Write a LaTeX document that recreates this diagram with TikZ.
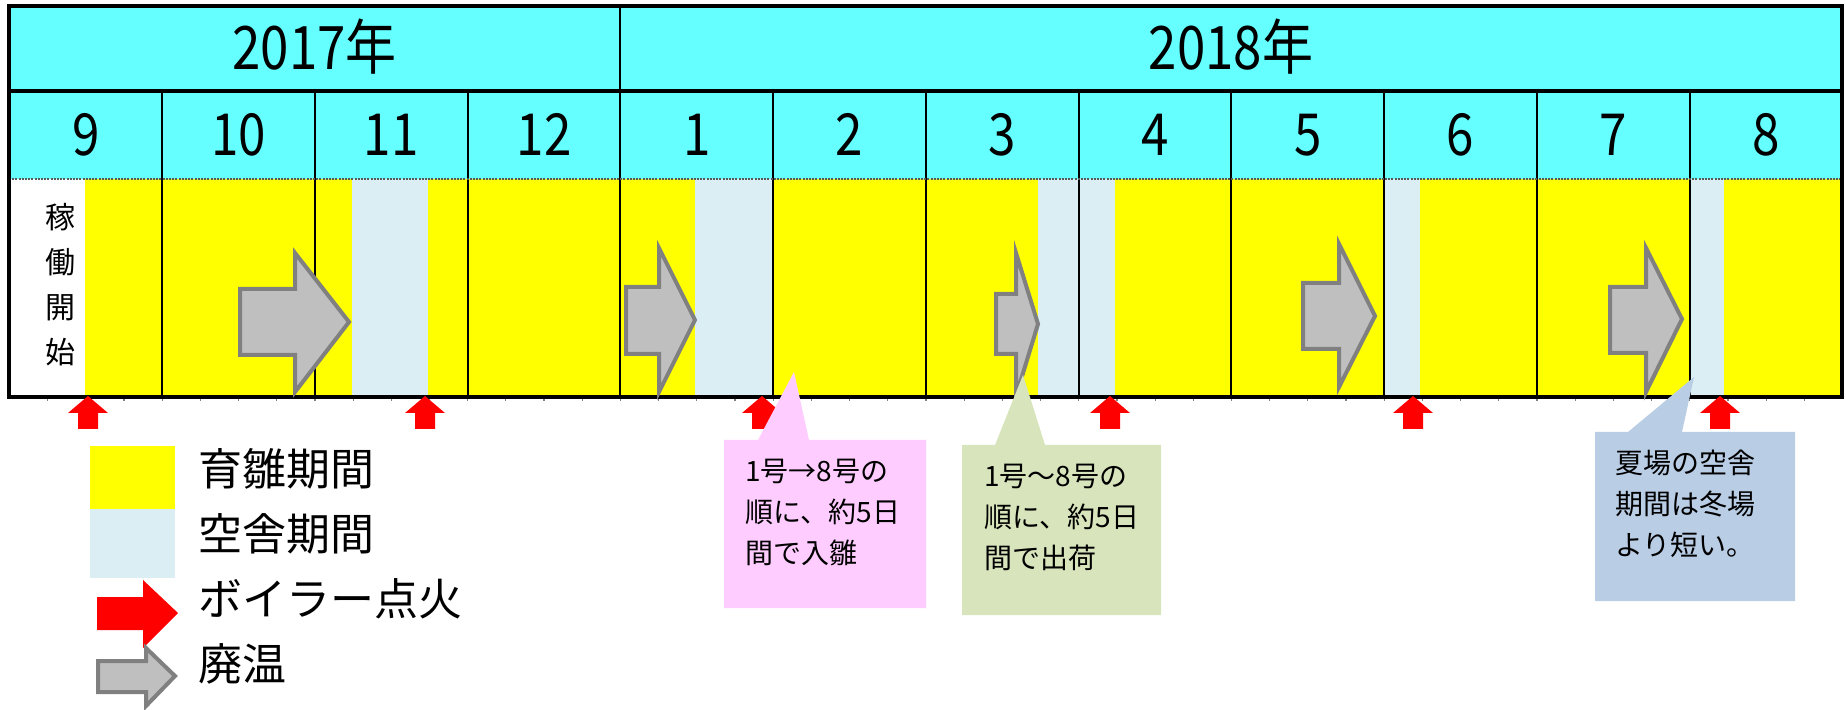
\documentclass[tikz,border=0pt]{standalone}
\usepackage{fontspec}
\setmainfont{Noto Sans CJK JP}
\newfontfamily\numfont[FakeStretch=0.85]{Noto Sans CJK JP}
\definecolor{hdrcyan}{HTML}{66FFFF}
\definecolor{yel}{HTML}{FFFF00}
\definecolor{emptyblue}{HTML}{DAEEF3}
\definecolor{agray}{HTML}{BFBFBF}
\definecolor{agrayline}{HTML}{808080}
\definecolor{pinkc}{HTML}{FFCCFF}
\definecolor{greenc}{HTML}{D8E4BC}
\definecolor{bluec}{HTML}{B9CDE5}
\newcommand\grayarrow[8]{\draw[warmoff] (#1,#2) -- (#4,#2) -- (#4,#5) -- (#7,#8) -- (#4,#6) -- (#4,#3) -- (#1,#3) -- cycle;}
\tikzset{
  warmoff/.style={fill=agray, draw=agrayline, line width=2pt, line join=miter},
  boiler/.pic={\fill[red] (0,0) -- (20,17) -- (10,17) -- (10,33) -- (-10,33) -- (-10,17) -- (-20,17) -- cycle;},
  yearlbl/.style={font=\numfont\fontsize{30}{36}\selectfont, inner sep=0, anchor=base},
  monthlbl/.style={font=\numfont\fontsize{29}{35}\selectfont, inner sep=0, anchor=base},
  legtext/.style={font=\fontsize{22}{26}\selectfont, inner sep=0, anchor=west},
  calltext/.style={font=\fontsize{14}{20.5}\selectfont, align=left, inner sep=0, anchor=west},
  thinline/.style={line width=1pt, black},
  thickline/.style={line width=1.6pt, black}
}
\begin{document}
\begin{tikzpicture}[x=0.5pt,y=-0.5pt]
\useasboundingbox (0,0) rectangle (1846,710);
% header fill
\fill[hdrcyan] (9,6) rectangle (1842,179);
% body fills
\fill[white] (9,179) rectangle (85,397);
\fill[yel] (85,179) rectangle (352,397);
\fill[emptyblue] (352,179) rectangle (428,397);
\fill[yel] (428,179) rectangle (695,397);
\fill[emptyblue] (695,179) rectangle (773,397);
\fill[yel] (773,179) rectangle (1038,397);
\fill[emptyblue] (1038,179) rectangle (1115,397);
\fill[yel] (1115,179) rectangle (1384,397);
\fill[emptyblue] (1384,179) rectangle (1420,397);
\fill[yel] (1420,179) rectangle (1690,397);
\fill[emptyblue] (1690,179) rectangle (1724,397);
\fill[yel] (1724,179) rectangle (1842,397);
% grid lines
\foreach \i in {1,2,3,5,6,7,8,9,10,11} {
  \draw[thinline] ({9.4+152.75*\i},91) -- ({9.4+152.75*\i},397);
}
\draw[thinline] (620.4,6) -- (620.4,397);
\draw[gray!70!black, line width=0.9pt, dash pattern=on 1pt off 0.6pt] (9,179) -- (1842,179);
\draw[thickline] (9,91) -- (1842,91);
\foreach \i in {1,...,47} {
  \draw[gray, line width=0.6pt] ({9.4+38.19*\i},398) -- ({9.4+38.19*\i},401);
}
\draw[thickline] (9,6) rectangle (1842,397);
% labels
\node[yearlbl] (y2017) at (314.5,70) {2017年};
\node[yearlbl] (y2018) at (1231,70) {2018年};
\foreach \m [count=\i from 0] in {9,10,11,12,1,2,3,4,5,6,7,8} {
  \node[monthlbl] (m\i) at ({9.4+152.75*(\i+0.5)},156) {\m};
}
\node[font=\fontsize{15}{22.5}\selectfont, align=center, inner sep=0] (start) at (60,285) {稼\\働\\開\\始};
% gray arrows (廃温)
\grayarrow{240}{289}{355}{295}{253}{392}{349}{322}
\grayarrow{626}{287}{354}{659}{248}{392}{695}{320}
\grayarrow{996}{294}{354}{1016}{253}{396}{1038}{324}
\grayarrow{1303}{283}{349}{1339}{244}{387}{1375}{316}
\grayarrow{1610}{287}{353}{1646}{248}{392}{1682}{319}
% boiler ignition arrows
\foreach \x in {88,425,762,1110,1413,1720} {
  \pic at (\x,396) {boiler};
}
% legend
\fill[yel] (90,446) rectangle (175,509);
\fill[emptyblue] (90,509) rectangle (175,578);
\fill[red] (97,597) -- (143,597) -- (143,580) -- (178,613) -- (143,648) -- (143,630) -- (97,630) -- cycle;
\draw[warmoff] (98,661) -- (146,661) -- (146,648) -- (175,676) -- (146,706) -- (146,692) -- (98,692) -- cycle;
\node[legtext] (lg1) at (198,469) {育雛期間};
\node[legtext] (lg2) at (198,534) {空舎期間};
\node[legtext] (lg3) at (198,599) {ボイラー点火};
\node[legtext] (lg4) at (198,664) {廃温};
% callouts
\fill[pinkc] (724,440) -- (758,440) -- (794,372) -- (809,440) -- (926,440) -- (926,608) -- (724,608) -- cycle;
\node[calltext] (note1) at (745,513) {1号→8号の\\順に、約5日\\間で入雛};
\fill[greenc] (962,445) -- (995,445) -- (1023,375) -- (1045,445) -- (1161,445) -- (1161,615) -- (962,615) -- cycle;
\node[calltext] (note2) at (984,517) {1号～8号の\\順に、約5日\\間で出荷};
\fill[bluec] (1595,432) -- (1628,432) -- (1694,377) -- (1682,432) -- (1795,432) -- (1795,601) -- (1595,601) -- cycle;
\node[calltext] (note3) at (1615,504) {夏場の空舎\\期間は冬場\\より短い。};
\end{tikzpicture}
\end{document}
